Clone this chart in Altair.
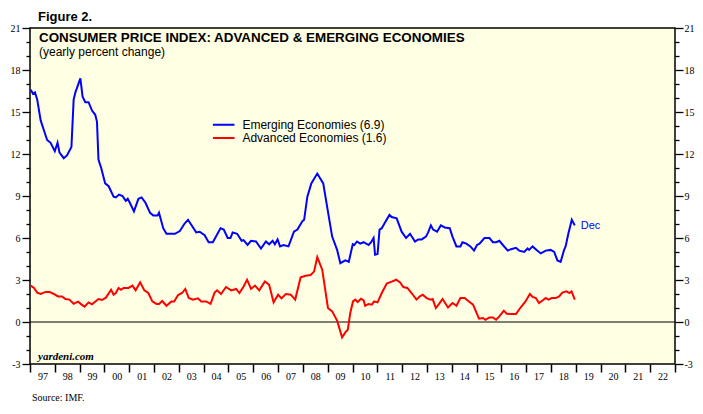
import altair as alt
import pandas as pd

# ---- data (decimal year, yearly % change) ----
blue_years = [1997.03, 1997.12, 1997.20, 1997.29, 1997.43, 1997.56, 1997.69, 1997.83,
              1998.00, 1998.11, 1998.19, 1998.36, 1998.49, 1998.67, 1998.76, 1998.83,
              1999.03, 1999.12, 1999.23, 1999.36, 1999.50, 1999.63, 1999.70, 1999.76, 1999.87,
              2000.03, 2000.17, 2000.37, 2000.46, 2000.59, 2000.73, 2000.86, 2000.94,
              2001.03, 2001.19, 2001.37, 2001.50, 2001.66, 2001.84, 2001.97,
              2002.14, 2002.20, 2002.37, 2002.50, 2002.84,
              2003.04, 2003.24, 2003.37, 2003.70, 2003.84,
              2004.04, 2004.20, 2004.37, 2004.68, 2004.81, 2004.97,
              2005.08, 2005.17, 2005.35, 2005.53, 2005.61, 2005.77, 2005.91,
              2006.11, 2006.31, 2006.51, 2006.64, 2006.78, 2006.87, 2006.98,
              2007.08, 2007.22, 2007.42, 2007.64, 2007.78, 2007.98,
              2008.05, 2008.18, 2008.34, 2008.58, 2008.82, 2008.98,
              2009.18, 2009.38, 2009.51, 2009.71, 2009.85,
              2010.01, 2010.07, 2010.18, 2010.31, 2010.45, 2010.65, 2010.75, 2010.85, 2010.91,
              2011.01, 2011.09, 2011.18, 2011.31, 2011.49, 2011.58, 2011.78, 2011.98,
              2012.16, 2012.32, 2012.52, 2012.65, 2012.79, 2012.96,
              2013.05, 2013.16, 2013.25, 2013.41, 2013.56, 2013.72, 2013.92,
              2014.03, 2014.19, 2014.35, 2014.43, 2014.59, 2014.75, 2014.90,
              2015.02, 2015.12, 2015.32, 2015.52, 2015.66, 2015.79, 2015.92,
              2016.06, 2016.26, 2016.39, 2016.59, 2016.72, 2016.92,
              2017.06, 2017.12, 2017.26, 2017.42, 2017.59, 2017.79, 2017.99,
              2018.13, 2018.26, 2018.39, 2018.53, 2018.59, 2018.70, 2018.84, 2018.96]
blue_vals = [16.6, 16.3, 16.4, 15.9, 14.4, 13.7, 13.0, 12.8,
             12.2, 12.8, 12.1, 11.7, 11.9, 12.5, 15.9, 16.4,
             17.4, 16.1, 15.7, 15.7, 15.1, 14.8, 14.3, 11.6, 11.0,
             9.9, 9.7, 8.95, 8.9, 9.1, 9.0, 8.65, 8.8,
             8.5, 7.9, 8.8, 8.9, 8.5, 7.8, 7.6,
             7.6, 7.8, 6.7, 6.3, 6.3,
             6.5, 7.05, 7.3, 6.4, 6.45,
             6.2, 5.7, 5.7, 6.7, 6.6, 6.0,
             6.0, 6.4, 6.3, 5.8, 5.85, 5.5, 5.8,
             5.75, 5.25, 5.75, 5.55, 5.8, 5.55, 5.9,
             5.4, 5.5, 5.4, 6.45, 6.6, 7.2,
             7.3, 8.95, 9.9, 10.6, 9.9, 8.2,
             6.1, 5.15, 4.2, 4.4, 4.3,
             5.55, 5.5, 5.75, 5.6, 5.7, 5.5, 5.7, 6.0, 4.8,
             4.85, 6.6, 6.7, 7.1, 7.65, 7.5, 7.4, 6.45,
             6.0, 6.3, 5.75, 5.9, 5.9, 6.1,
             6.4, 6.9, 6.6, 6.45, 6.9, 6.75, 6.7,
             6.1, 5.4, 5.4, 5.7, 5.6, 5.4, 5.1,
             5.5, 5.6, 6.0, 6.0, 5.7, 5.7, 5.8,
             5.5, 5.1, 5.2, 5.3, 5.1, 5.0,
             5.25, 5.15, 5.4, 5.15, 4.9, 5.1, 5.15,
             5.0, 4.4, 4.3, 5.15, 5.4, 6.3, 7.3, 6.9]

red_years = [1997.03, 1997.16, 1997.29, 1997.43, 1997.63, 1997.79, 1997.96,
             1998.13, 1998.29, 1998.43, 1998.59, 1998.76, 1998.94,
             1999.07, 1999.20, 1999.36, 1999.50, 1999.76, 1999.90,
             2000.06, 2000.27, 2000.37, 2000.46, 2000.57, 2000.67, 2000.77, 2000.97,
             2001.13, 2001.26, 2001.44, 2001.61, 2001.77, 2001.93,
             2002.10, 2002.20, 2002.33, 2002.50, 2002.70, 2002.81, 2002.97,
             2003.13, 2003.26, 2003.40, 2003.57, 2003.77, 2003.90,
             2004.10, 2004.28, 2004.44, 2004.54, 2004.70, 2004.90,
             2005.11, 2005.31, 2005.44, 2005.61, 2005.75, 2005.91,
             2006.07, 2006.24, 2006.47, 2006.64, 2006.82,
             2007.00, 2007.14, 2007.31, 2007.51, 2007.69, 2007.91,
             2008.11, 2008.31, 2008.45, 2008.58, 2008.78,
             2009.01, 2009.18, 2009.38, 2009.58, 2009.71, 2009.81, 2009.91,
             2010.02, 2010.11, 2010.21, 2010.34, 2010.45, 2010.51, 2010.65, 2010.78, 2010.87,
             2011.01, 2011.18, 2011.38, 2011.58, 2011.76, 2011.92,
             2012.05, 2012.21, 2012.38, 2012.58, 2012.72, 2012.83, 2012.99,
             2013.15, 2013.23, 2013.36, 2013.49, 2013.63, 2013.85,
             2014.03, 2014.19, 2014.35, 2014.52, 2014.72, 2014.86,
             2015.10, 2015.26, 2015.36, 2015.52, 2015.66, 2015.79, 2015.92,
             2016.10, 2016.22, 2016.39, 2016.59, 2016.79, 2016.96,
             2017.15, 2017.26, 2017.39, 2017.52, 2017.66, 2017.79, 2017.90,
             2018.03, 2018.19, 2018.33, 2018.46, 2018.62, 2018.75, 2018.83, 2018.96]
red_vals = [2.6, 2.43, 2.1, 2.0, 2.15, 2.15, 2.0,
            1.83, 1.83, 1.64, 1.6, 1.3, 1.45,
            1.26, 1.1, 1.4, 1.26, 1.64, 1.57,
            1.74, 2.3, 1.95, 2.07, 2.43, 2.3, 2.43, 2.43,
            2.6, 2.26, 2.83, 2.26, 2.07, 1.47,
            1.29, 1.29, 1.5, 1.16, 1.47, 1.47, 1.93,
            2.07, 2.36, 1.71, 1.6, 1.69, 1.47,
            1.47, 1.3, 2.1, 2.26, 2.0, 2.5,
            2.26, 2.36, 2.07, 2.54, 3.02, 2.36,
            2.6, 2.26, 2.9, 2.66, 1.4,
            1.95, 1.69, 2.0, 1.95, 1.6, 3.2,
            3.3, 3.36, 3.6, 4.64, 3.74,
            1.0, 0.76, 0.1, -1.1, -0.74, -0.55, 0.64,
            1.47, 1.6, 1.43, 1.66, 1.54, 1.16, 1.29, 1.24, 1.47,
            1.4, 2.07, 2.74, 2.88, 3.02, 2.83,
            2.5, 2.43, 2.07, 1.6, 1.83, 1.95, 1.71,
            1.6, 1.64, 1.0, 1.29, 1.64, 1.04,
            1.36, 1.16, 1.71, 1.71, 1.43, 1.24,
            0.24, 0.29, 0.16, 0.33, 0.33, 0.16, 0.4,
            0.81, 0.59, 0.57, 0.57, 1.07, 1.43,
            2.0, 1.79, 1.71, 1.36, 1.54, 1.71, 1.6,
            1.71, 1.71, 1.83, 2.1, 2.19, 2.07, 2.19, 1.6]

series_names = ["Emerging Economies (6.9)", "Advanced Economies (1.6)"]
series_colors = ["#0000FF", "#FF0000"]
year_ticks = list(range(1997, 2024))
y_ticks = list(range(-3, 22))

df = pd.concat([
    pd.DataFrame({"year": blue_years, "value": blue_vals, "series": series_names[0]}),
    pd.DataFrame({"year": red_years, "value": red_vals, "series": series_names[1]}),
], ignore_index=True)

W, H = 645, 336
yscale = alt.Scale(domain=[-3, 21], nice=False, zero=False)
xscale = alt.Scale(domain=[1997, 2023], nice=False, zero=False)

tick_cond = {"condition": {"test": "datum.value % 3 === 0", "value": 8}, "value": 4}
y_label_expr = "datum.value % 3 === 0 ? toString(datum.value) : ''"


def y_axis(orient, pad):
    return alt.Axis(orient=orient, values=y_ticks, labelExpr=y_label_expr,
                    tickSize=tick_cond, grid=False, domain=False,
                    labelFont="Liberation Serif", labelFontSize=10, labelColor="black",
                    tickColor="black", tickWidth=1.3, labelPadding=pad,
                    labelOverlap=False, labelFlush=False, title=None)


x_axis = alt.Axis(orient="bottom", values=year_ticks,
                  labelExpr="datum.value >= 2023 ? '' : format(datum.value % 100, '02d')",
                  labelOffset=12.4, tickSize=8, tickColor="black", tickWidth=1.5,
                  grid=False, domain=False, labelFont="Liberation Serif",
                  labelFontSize=10, labelColor="black", labelPadding=-1,
                  labelOverlap=False, labelFlush=False, title=None)

zero = alt.Chart(pd.DataFrame({"zero": [0]})).mark_rule(color="black", strokeWidth=1).encode(
    y=alt.Y("zero:Q", scale=yscale, axis=y_axis("right", 1))
)

lines = alt.Chart(df).mark_line(strokeWidth=2).encode(
    x=alt.X("year:Q", scale=xscale, axis=x_axis),
    y=alt.Y("value:Q", scale=yscale, axis=y_axis("left", 2)),
    color=alt.Color("series:N", scale=alt.Scale(domain=series_names, range=series_colors),
                    legend=alt.Legend(title=None, orient="none", legendX=181.7, legendY=90.7,
                                      symbolType="stroke", symbolSize=467, symbolStrokeWidth=2,
                                      labelFont="Liberation Sans", labelFontSize=12,
                                      labelColor="black", clipHeight=12, rowPadding=1.3,
                                      padding=0, labelOffset=6.7)),
)

dec = alt.Chart(pd.DataFrame({"year": [blue_years[-1]], "value": [blue_vals[-1]], "t": ["Dec"]})).mark_text(
    align="left", baseline="middle", dx=6, dy=1, color="#0000FF",
    font="Liberation Sans", fontSize=11
).encode(
    x=alt.X("year:Q", scale=xscale, axis=x_axis),
    y=alt.Y("value:Q", scale=yscale, axis=None),
    text="t:N",
)


def label(text, x, y, **kw):
    return alt.Chart(pd.DataFrame({"t": [text]})).mark_text(align="left", baseline="alphabetic", **kw).encode(
        text="t:N", x=alt.value(x), y=alt.value(y)
    )


fig = label("Figure 2.", 8, -7, font="Liberation Sans", fontSize=13, fontWeight="bold", color="black")
title = label("CONSUMER PRICE INDEX: ADVANCED & EMERGING ECONOMIES", 9, 14.4,
              font="Liberation Sans", fontSize=13.4, fontWeight="bold", color="black")
sub = label("(yearly percent change)", 9, 28.4, font="Liberation Sans", fontSize=12, color="black")
yard = label("yardeni.com", 8, 331.5, font="Liberation Serif", fontSize=11, fontWeight="bold",
             fontStyle="italic", color="black")
src = label("Source: IMF.", 2, 373, font="Liberation Serif", fontSize=10, color="black")

chart = alt.layer(zero, lines, dec, fig, title, sub, yard, src).resolve_scale(
    y="independent"
).properties(
    width=W, height=H,
    autosize=alt.AutoSizeParams(type="none"),
    padding={"left": 22, "top": 20, "right": 20, "bottom": 38},
    background="white",
).configure_view(
    stroke="black", strokeWidth=1.5, fill="#FFFFE3"
)

chart.save("out.html", embed_options={"renderer": "svg", "actions": False})
